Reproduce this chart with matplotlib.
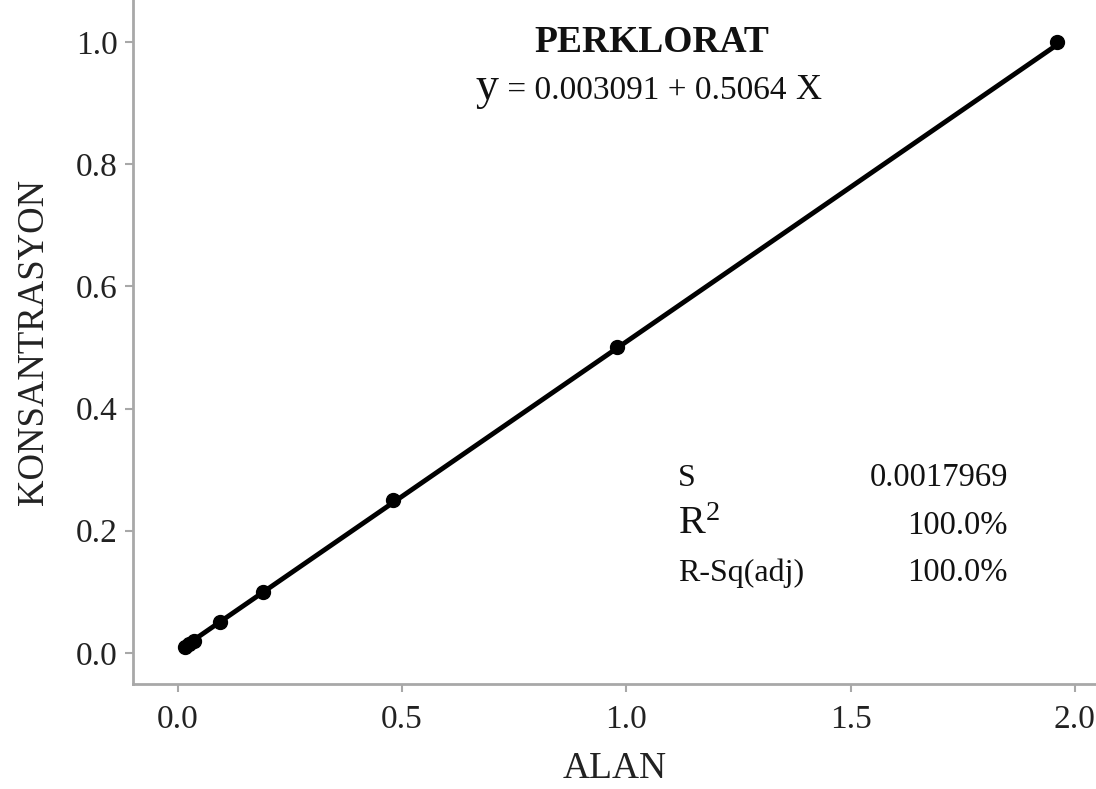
import numpy as np
import matplotlib.pyplot as plt

plt.rcParams['font.family'] = ['Liberation Serif', 'DejaVu Serif']

# calibration points: peak area vs. concentration
alan = [0.015, 0.025, 0.035, 0.095, 0.190, 0.480, 0.980, 1.960]
konsantrasyon = [0.010, 0.015, 0.020, 0.050, 0.100, 0.250, 0.500, 1.000]

# regression results
b0 = 0.003091
b1 = 0.5064
s_val = '0.0017969'
r_sq = '100.0%'
r_sq_adj = '100.0%'

xticks = [0.0, 0.5, 1.0, 1.5, 2.0]
yticks = [0.0, 0.2, 0.4, 0.6, 0.8, 1.0]

W, H = 1096, 789
fig = plt.figure(figsize=(W / 100, H / 100), dpi=100)
ax = fig.add_axes([133 / W, 105 / H, 1 - 133 / W, 1 - 105 / H])

xf = np.linspace(min(alan), max(alan), 50)
ax.plot(xf, b0 + b1 * xf, color='black', lw=3.5, zorder=2)
ax.plot(alan, konsantrasyon, 'o', color='black', ms=10, zorder=3)

ax.set_xlim(-0.1, 2.047)
ax.set_ylim(-0.051, 1.069)
ax.set_xticks(xticks)
ax.set_yticks(yticks)
ax.set_xticklabels([f'{v:.1f}' for v in xticks])
ax.set_yticklabels([f'{v:.1f}' for v in yticks])

for side in ['top', 'right']:
    ax.spines[side].set_visible(False)
for side in ['left', 'bottom']:
    ax.spines[side].set_color('#a8a8a8')
    ax.spines[side].set_linewidth(2)
ax.tick_params(colors='#a8a8a8', labelcolor='#222222', labelsize=24,
               length=6, width=1.5)
ax.tick_params(axis='x', pad=9)
ax.tick_params(axis='y', pad=5)

ax.set_xlabel('ALAN', fontsize=27, color='#222222', labelpad=12)
ax.set_ylabel('KONSANTRASYON', fontsize=26.5, color='#222222', labelpad=18)

# title and fitted equation
fig.text(652 / W, 1 - 52 / H, 'PERKLORAT', fontsize=27, fontweight='bold',
         ha='center', va='baseline', color='#111111')

fig.canvas.draw()
rend = fig.canvas.get_renderer()
base = 1 - 99 / H
x = 476
for txt, size in [('y', 33), (' = 0.003091 + 0.5064 ', 24), ('X', 26)]:
    t = fig.text(x / W, base, txt, fontsize=size, ha='left', va='baseline',
                 color='#111111')
    x = t.get_window_extent(rend).x1

# summary statistics
left_x = 678 / W
right_x = 1008 / W
rows = [('S', s_val, 486, 23), (r'$\mathregular{R^2}$', r_sq, 534, 29),
        ('R-Sq(adj)', r_sq_adj, 581, 23)]
for lab, val, yb, size in rows:
    fig.text(left_x, 1 - yb / H, lab, fontsize=size, ha='left',
             va='baseline', color='#111111')
    fig.text(right_x, 1 - yb / H, val, fontsize=23.5, ha='right',
             va='baseline', color='#111111')

fig.savefig('out.png', dpi=100)
